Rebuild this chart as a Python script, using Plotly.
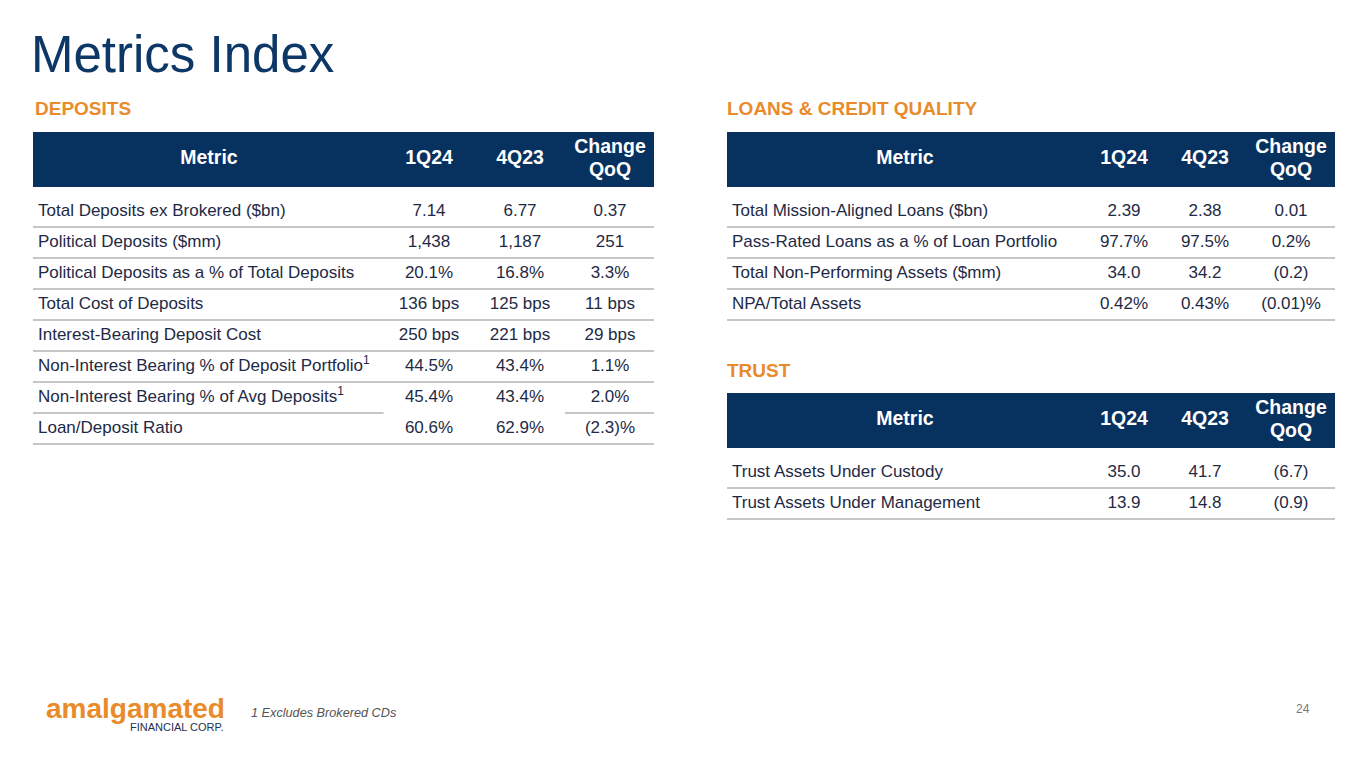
import plotly.graph_objects as go

# ---- data ----
header_lines = [["Metric"], ["1Q24"], ["4Q23"], ["Change", "QoQ"]]

dep_metrics = [
    "Total Deposits ex Brokered ($bn)",
    "Political Deposits ($mm)",
    "Political Deposits as a % of Total Deposits",
    "Total Cost of Deposits",
    "Interest-Bearing Deposit Cost",
    "Non-Interest Bearing % of Deposit Portfolio<sup>1</sup>",
    "Non-Interest Bearing % of Avg Deposits<sup>1</sup>",
    "Loan/Deposit Ratio",
]
dep_1q24 = ["7.14", "1,438", "20.1%", "136 bps", "250 bps", "44.5%", "45.4%", "60.6%"]
dep_4q23 = ["6.77", "1,187", "16.8%", "125 bps", "221 bps", "43.4%", "43.4%", "62.9%"]
dep_chg = ["0.37", "251", "3.3%", "11 bps", "29 bps", "1.1%", "2.0%", "(2.3)%"]

loan_metrics = [
    "Total Mission-Aligned Loans ($bn)",
    "Pass-Rated Loans as a % of Loan Portfolio",
    "Total Non-Performing Assets ($mm)",
    "NPA/Total Assets",
]
loan_1q24 = ["2.39", "97.7%", "34.0", "0.42%"]
loan_4q23 = ["2.38", "97.5%", "34.2", "0.43%"]
loan_chg = ["0.01", "0.2%", "(0.2)", "(0.01)%"]

trust_metrics = ["Trust Assets Under Custody", "Trust Assets Under Management"]
trust_1q24 = ["35.0", "13.9"]
trust_4q23 = ["41.7", "14.8"]
trust_chg = ["(6.7)", "(0.9)"]

# ---- style ----
FONT = "Liberation Sans, Arial, sans-serif"
NAVY = "#07315F"
TEXT = "#1E2A45"
ORANGE = "#E98B2B"
RULE = "#C6C6C6"
HEADER_H = 55
ROW_H = 31
GAP = 9
LINE_GAP = 23  # two-line header spacing

fig = go.Figure()


def add_table(left, right, top, metric_center, col_centers, metrics, c1, c2, c3,
              partial_rules=()):
    # header band
    fig.add_shape(type="rect", x0=left, x1=right, y0=top, y1=top + HEADER_H,
                  fillcolor=NAVY, line_width=0, layer="below")
    hy = top + HEADER_H / 2
    hx, hyy, ht = [], [], []
    for cx, lines in zip([metric_center] + list(col_centers), header_lines):
        k = len(lines)
        for j, ln in enumerate(lines):
            hx.append(cx)
            hyy.append(hy + (j - (k - 1) / 2) * LINE_GAP)
            ht.append("<b>%s</b>" % ln)
    fig.add_trace(go.Scatter(
        x=hx, y=hyy, mode="text", text=ht,
        textfont=dict(family=FONT, size=19.5, color="white"),
        textposition="middle center", hoverinfo="skip", showlegend=False))
    n = len(metrics)
    ys = [top + HEADER_H + GAP + ROW_H * (i + 0.5) for i in range(n)]
    fig.add_trace(go.Scatter(
        x=[left + 5] * n, y=ys, mode="text", text=metrics,
        textfont=dict(family=FONT, size=17, color=TEXT),
        textposition="middle right", hoverinfo="skip", showlegend=False))
    for cx, vals in zip(col_centers, (c1, c2, c3)):
        fig.add_trace(go.Scatter(
            x=[cx] * n, y=ys, mode="text", text=vals,
            textfont=dict(family=FONT, size=17, color=TEXT),
            textposition="middle center", hoverinfo="skip", showlegend=False))
    # separator rules below each row
    lx, ly = [], []
    metric_end = col_centers[0] - (col_centers[1] - col_centers[0]) / 2
    chg_start = (col_centers[1] + col_centers[2]) / 2
    for i in range(n):
        yy = top + HEADER_H + GAP + ROW_H * (i + 1)
        if i in partial_rules:
            lx += [left, metric_end, None, chg_start, right, None]
            ly += [yy, yy, None, yy, yy, None]
        else:
            lx += [left, right, None]
            ly += [yy, yy, None]
    fig.add_trace(go.Scatter(x=lx, y=ly, mode="lines",
                             line=dict(color=RULE, width=2),
                             hoverinfo="skip", showlegend=False))


add_table(33, 654, 132, 209, [429, 520, 610], dep_metrics, dep_1q24, dep_4q23, dep_chg,
          partial_rules=(6,))
add_table(727, 1335, 132, 905, [1124, 1205, 1291], loan_metrics, loan_1q24, loan_4q23, loan_chg)
add_table(727, 1335, 393, 905, [1124, 1205, 1291], trust_metrics, trust_1q24, trust_4q23, trust_chg)


# ---- slide text ----
def note(x, y, text, size, color, anchor="left", bold=False, italic=False):
    t = text
    if bold:
        t = "<b>%s</b>" % t
    if italic:
        t = "<i>%s</i>" % t
    fig.add_annotation(x=x, y=y, xref="x", yref="y", text=t, showarrow=False,
                       xanchor=anchor, yanchor="middle",
                       font=dict(family=FONT, size=size, color=color))


note(29, 54, "Metrics Index", 51, "#0C3766")
note(33, 108, "DEPOSITS", 19, ORANGE, bold=True)
note(725, 108, "LOANS &amp; CREDIT QUALITY", 19, ORANGE, bold=True)
note(725, 370, "TRUST", 19, ORANGE, bold=True)
note(249, 713, "1 Excludes Brokered CDs", 12.7, "#555555", italic=True)
note(1312, 709, "24", 12, "#777777", anchor="right")
note(227, 708, "amalgamated", 28, ORANGE, anchor="right", bold=True)
note(226, 727, "FINANCIAL CORP.", 11, "#233250", anchor="right")

# the page body adds an 8px margin, so the axes are laid out in screen pixels
fig.update_xaxes(range=[8, 1365], visible=False, fixedrange=True)
fig.update_yaxes(range=[768, 8], visible=False, fixedrange=True)
fig.update_layout(width=1357, height=760, margin=dict(l=0, r=0, t=0, b=0),
                  plot_bgcolor="white", paper_bgcolor="white", showlegend=False)

fig.write_html("out.html", config={"displayModeBar": False})
